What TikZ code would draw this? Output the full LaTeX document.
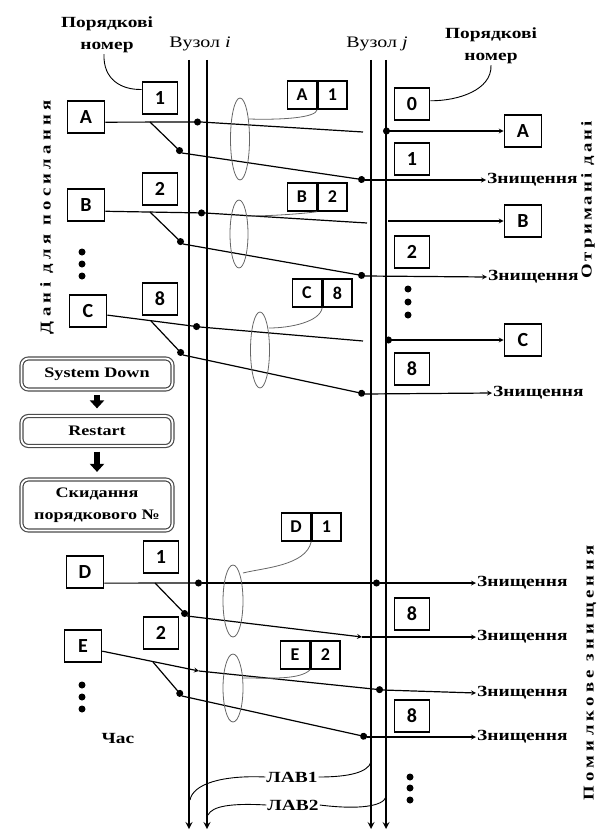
\documentclass[tikz,border=0pt]{standalone}
\usepackage{fontspec}
\setmainfont{Liberation Serif}[FakeStretch=1.25]
\newfontfamily\boxfont{Carlito}
\usetikzlibrary{shapes,arrows,arrows.meta,positioning,calc}

\begin{document}
\begin{tikzpicture}[x=1pt, y=-1pt, >=stealth,
    lbl/.style={font=\fontsize{15.5}{22}\selectfont\bfseries, inner sep=1pt, align=center},
    seqbox/.style={rectangle, draw, line width=1.6pt, minimum width=35pt, minimum height=32pt, inner sep=0pt, font=\boxfont\fontsize{20}{22}\selectfont\bfseries},
    databox/.style={seqbox, minimum width=37pt},
    cellbox/.style={rectangle, draw, line width=1.4pt, minimum width=29pt, minimum height=28pt, inner sep=0pt, font=\boxfont\fontsize{18}{20}\selectfont\bfseries},
    stepbox/.style={rectangle, rounded corners=7pt, draw=black!70, double, double distance=1.8pt, line width=1.2pt, minimum width=151pt, font=\fontsize{14.5}{22}\selectfont\bfseries, align=center},
    vlbl/.style={rotate=90, inner sep=0pt, font=\fontsize{15}{16}\selectfont\bfseries},
    bus/.style={line width=2pt, ->},
    wire/.style={line width=1.2pt},
    thinwire/.style={line width=0.9pt},
    ring/.style={draw=black!60, line width=0.8pt},
    blockarr/.style={line width=6pt, -{Triangle[width=14pt,length=8pt]}, shorten <=5pt, shorten >=7pt}]

    \useasboundingbox (0,0) rectangle (603,832);

    % nodes i and j
    \node[font=\fontsize{16}{18}\selectfont] (nodei) at (200,44) {Вузол \textit{i}};
    \node[font=\fontsize{16}{18}\selectfont] (nodej) at (377,44) {Вузол \textit{j}};
    \coordinate (i1top) at (189,60); \coordinate (i1bot) at (189,829);
    \coordinate (i2top) at (207,60); \coordinate (i2bot) at (207,829);
    \coordinate (j1top) at (371,60); \coordinate (j1bot) at (371,829);
    \coordinate (j2top) at (386,60); \coordinate (j2bot) at (386,829);
    \draw[bus] (i1top) -- (i1bot);
    \draw[bus] (i2top) -- (i2bot);
    \draw[bus] (j1top) -- (j1bot);
    \draw[bus] (j2top) -- (j2bot);

    \node[lbl] (seqL) at (107,35) {Порядкові\\номер};
    \node[lbl] (seqR) at (491,46) {Порядкові\\номер};

    \node[vlbl] (sendlbl) at (47,217) {\addfontfeature{LetterSpace=29}Дані для посилання};
    \node[vlbl] (recvlbl) at (588,200) {\addfontfeature{LetterSpace=21}Отримані дані};
    \node[vlbl] (errlbl) at (590,673) {\addfontfeature{LetterSpace=29}Помилкове знищення};

    % sender
    \node[seqbox] (s1) at (160,98) {1};
    \node[databox] (sa) at (86,117) {A};
    \node[seqbox] (s2) at (160,189) {2};
    \node[databox] (sb) at (86,205) {B};
    \node[seqbox] (s8) at (160,299) {8};
    \node[databox] (sc) at (88,311) {C};
    \node[seqbox] (t1) at (161,557) {1};
    \node[databox] (sd) at (85,572) {D};
    \node[seqbox] (t2) at (161,633) {2};
    \node[databox] (se) at (83,646) {E};

    % receiver
    \node[seqbox] (r0) at (412,104) {0};
    \node[seqbox] (r1) at (412,159) {1};
    \node[seqbox] (r2) at (412,252) {2};
    \node[seqbox] (r8) at (412,369) {8};
    \node[seqbox] (u8a) at (412,614) {8};
    \node[seqbox] (u8b) at (412,716) {8};
    \node[databox] (ra) at (523,131) {A};
    \node[databox] (rb) at (523,221) {B};
    \node[databox] (rc) at (523,340) {C};

    \node[lbl, anchor=west] (k1) at (486,180) {Знищення};
    \node[lbl, anchor=west] (k2) at (487,277) {Знищення};
    \node[lbl, anchor=west] (k8) at (492,393) {Знищення};
    \node[lbl, anchor=west] (kd) at (476,583) {Знищення};
    \node[lbl, anchor=west] (km1) at (476,637) {Знищення};
    \node[lbl, anchor=west] (ke) at (476,693) {Знищення};
    \node[lbl, anchor=west] (km2) at (476,737) {Знищення};

    % frames on the link
    \node[cellbox] (fa) at (302,95) {A};
    \node[cellbox, anchor=west] (fa1) at (fa.east) {1};
    \node[cellbox] (fb) at (302,197) {B};
    \node[cellbox, anchor=west] (fb2) at (fb.east) {2};
    \node[cellbox] (fc) at (307,293) {C};
    \node[cellbox, anchor=west] (fc8) at (fc.east) {8};
    \node[cellbox] (fd) at (296,527) {D};
    \node[cellbox, anchor=west] (fd1) at (fd.east) {1};
    \node[cellbox] (fe) at (295,655) {E};
    \node[cellbox, anchor=west] (fe2) at (fe.east) {2};

    % restart
    \node[stepbox, minimum height=31pt] (down) at (97,374) {System Down};
    \node[stepbox, minimum height=30pt] (restart) at (97,431) {Restart};
    \node[stepbox, minimum height=51pt] (reset) at (97,505) {Скидання\\порядкового №};
    \draw[blockarr] (down.south) -- (restart.north);
    \draw[blockarr] (restart.south) -- (reset.north);

    \node[lbl] (time) at (118,738) {Час};
    \node[lbl] (lav1) at (292,777) {ЛАВ1};
    \node[lbl] (lav2) at (293,805) {ЛАВ2};

    \foreach \y in {252,264,276,685,697,709} \fill (82,\y) circle (3.5pt);
    \foreach \y in {289,302,315} \fill (408,\y) circle (3.5pt);
    \foreach \y in {777,788,800} \fill (410,\y) circle (3.5pt);

    % labels to boxes and links
    \draw[thinwire] ([xshift=-3pt]seqL.south) .. controls (103,80) and (122,90) .. (s1.155);
    \draw[thinwire] (seqR.south) .. controls (492,90) and (458,101) .. (r0.10);
    \draw[thinwire] (lav1.west) .. controls (222,775) and (193,784) .. (190,800);
    \draw[thinwire] (lav1.east) .. controls (350,777) and (368,772) .. (371,762);
    \draw[thinwire] (lav2.west) .. controls (232,803) and (212,806) .. (208,815);
    \draw[thinwire] (lav2.east) .. controls (360,810) and (383,806) .. (386,797);

    % first session
    \coordinate (ai) at (201,122);
    \coordinate (aj) at (363,132);
    \coordinate (ao) at (383,131);
    \coordinate (af) at (150,122);
    \coordinate (ni1) at (182,153);
    \coordinate (nj1) at (365,180);
    \draw[wire, -*] (sa.-15) -- (ai);
    \draw[wire] (ai) -- (aj);
    \draw[wire, *->] (ao) -- (ra.west);
    \draw[wire, -*] (af) -- (ni1);
    \draw[wire, -*] (ni1) -- (nj1);
    \draw[wire, ->] (nj1) -- (k1.west);

    \coordinate (bi) at (205,213);
    \coordinate (bj) at (367,223);
    \coordinate (bo) at (388,221);
    \coordinate (bf) at (150,212);
    \coordinate (ni2) at (183,244);
    \coordinate (nj2) at (365,276);
    \draw[wire, -*] (sb.-18) -- (bi);
    \draw[wire] (bi) -- (bj);
    \draw[wire, ->] (bo) -- (rb.west);
    \draw[wire, -*] (bf) -- (ni2);
    \draw[wire, -*] (ni2) -- (nj2);
    \draw[wire, ->] (nj2) -- (k2.west);

    \coordinate (ci) at (200,327);
    \coordinate (cj) at (363,341);
    \coordinate (co) at (385,340);
    \coordinate (cf) at (151,321);
    \coordinate (ni8) at (183,355);
    \coordinate (nj8) at (365,394);
    \draw[wire, -*] (sc.-12) -- (ci);
    \draw[wire] (ci) -- (cj);
    \draw[wire, *->] (co) -- (rc.west);
    \draw[wire, -*] (cf) -- (ni8);
    \draw[wire, -*] (ni8) -- (nj8);
    \draw[wire, ->] (nj8) -- (k8.west);

    % after restart
    \coordinate (di) at (202,583);
    \coordinate (dj) at (380,583);
    \coordinate (df) at (155,583);
    \coordinate (mi1) at (187,616);
    \coordinate (mj1) at (362,637);
    \draw[wire, -*] (sd.-30) -- (di);
    \draw[wire, -*] (di) -- (dj);
    \draw[wire, ->] (dj) -- (kd.west);
    \draw[wire, -*] (df) -- (mi1);
    \draw[wire, ->] (mi1) -- (mj1);
    \draw[wire, ->] (mj1) -- (km1.west);

    \coordinate (ei) at (199,671);
    \coordinate (ej) at (383,690);
    \coordinate (ef) at (153,662);
    \coordinate (mi2) at (182,696);
    \coordinate (mj2) at (367,737);
    \draw[wire, ->] (se.-15) -- (ei);
    \draw[wire, -*] (ei) -- (ej);
    \draw[wire, ->] (ej) -- (ke.west);
    \draw[wire, -*] (ef) -- (mi2);
    \draw[wire, -*] (mi2) -- (mj2);
    \draw[wire, ->] (mj2) -- (km2.west);

    % frames
    \coordinate (e1) at (240,139);
    \coordinate (e2) at (239,234);
    \coordinate (e3) at (260,350);
    \coordinate (e4) at (233,601);
    \coordinate (e5) at (233,688);
    \draw[ring] (e1) ellipse [x radius=9.5pt, y radius=41pt];
    \draw[ring] (e2) ellipse [x radius=9pt, y radius=34pt];
    \draw[ring] (e3) ellipse [x radius=9.5pt, y radius=38pt];
    \draw[ring] (e4) ellipse [x radius=10pt, y radius=36pt];
    \draw[ring] (e5) ellipse [x radius=10pt, y radius=34pt];
    \draw[ring] (fa.south east) .. controls (316,118) and (280,120) .. (249,119);
    \draw[ring] (fb.south east) .. controls (300,214) and (270,216) .. (247,216);
    \draw[ring] (fc.south east) .. controls (320,322) and (290,328) .. (269,328);
    \draw[ring] (fd.south east) .. controls (306,566) and (262,568) .. (243,573);
    \draw[ring] (fe.south east) .. controls (300,680) and (270,678) .. (243,678);
\end{tikzpicture}
\end{document}
